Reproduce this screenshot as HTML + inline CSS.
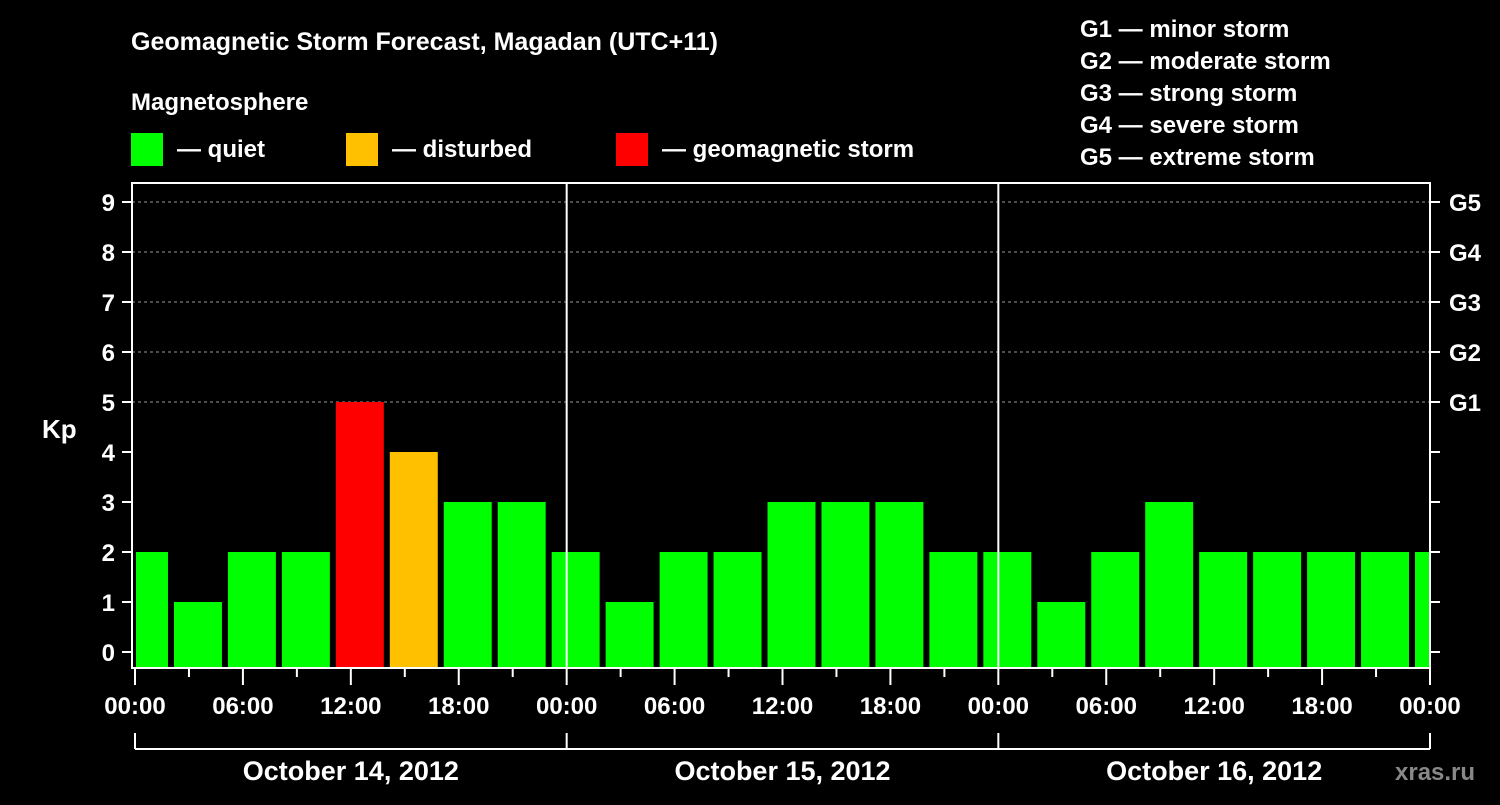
<!DOCTYPE html>
<html><head><meta charset="utf-8"><style>
body{margin:0;background:#000;}
svg text{font-family:"Liberation Sans",Arial,sans-serif;font-weight:bold;fill:#fff;}
</style></head><body>
<svg id="chart" width="1500" height="800" xmlns="http://www.w3.org/2000/svg">
<rect width="1500" height="800" fill="#000"/>
<text x="131" y="50" font-size="25">Geomagnetic Storm Forecast, Magadan (UTC+11)</text>
<text x="131" y="110" font-size="24">Magnetosphere</text>
<g>
<rect x="131" y="133" width="32" height="33" fill="#00ff00"/><text x="177" y="157" font-size="24">— quiet</text>
<rect x="346" y="133" width="32" height="33" fill="#ffc000"/><text x="392" y="157" font-size="24">— disturbed</text>
<rect x="616" y="133" width="32" height="33" fill="#ff0000"/><text x="662" y="157" font-size="24">— geomagnetic storm</text>
</g>
<g font-size="24">
<text x="1080" y="37">G1 — minor storm</text>
<text x="1080" y="69">G2 — moderate storm</text>
<text x="1080" y="101">G3 — strong storm</text>
<text x="1080" y="133">G4 — severe storm</text>
<text x="1080" y="165">G5 — extreme storm</text>
</g>
<text x="42" y="438" font-size="26">Kp</text>
<text x="1395" y="780" font-size="24" style="fill:#888">xras.ru</text>
<g id="plot"></g>
</svg>
<script>
const kpValues=[2,1,2,2,5,4,3,3,2,1,2,2,3,3,3,2,2,1,2,3,2,2,2,2,2];
const yTicks=[0,1,2,3,4,5,6,7,8,9];
const gLabels=["G1","G2","G3","G4","G5"];
const xTickLabels=["00:00","06:00","12:00","18:00","00:00","06:00","12:00","18:00","00:00","06:00","12:00","18:00","00:00"];
const dayLabels=["October 14, 2012","October 15, 2012","October 16, 2012"];
const NS="http://www.w3.org/2000/svg";
const g=document.getElementById('plot');
const X0=135,X1=1430,TOTAL=72,YB=668;
const x=h=>X0+(X1-X0)*h/TOTAL;
const y=v=>652-v*50;
function mk(t,a,p){const e=document.createElementNS(NS,t);for(const k in a)e.setAttribute(k,a[k]);(p||g).appendChild(e);return e;}
// grid
for(let v=5;v<=9;v++){const l=mk('line',{x1:132,x2:X1,y1:y(v),y2:y(v),stroke:'#999','stroke-dasharray':'3,3','stroke-width':1});

}
// bars
const colorFor=v=>v>=5?'#ff0000':(v>=4?'#ffc000':'#00ff00');
kpValues.forEach((v,i)=>{const t=-1+3*i;let a=x(t)+3,b=x(t+3)-3;a=Math.max(a,X0+1);b=Math.min(b,X1);
const r=mk('rect',{x:a,y:y(v),width:b-a,height:YB-y(v),fill:colorFor(v)});

});
// frame
const fr=mk('rect',{x:132,y:183,width:X1-132,height:YB-183,fill:'none',stroke:'#fff','stroke-width':2});


[24,48].forEach(h=>{const l=mk('line',{x1:x(h),x2:x(h),y1:183,y2:YB,stroke:'#fff','stroke-width':2});

});
// y ticks
yTicks.forEach(v=>{mk('line',{x1:122,x2:132,y1:y(v),y2:y(v),stroke:'#fff','stroke-width':2});
mk('line',{x1:X1,x2:X1+10,y1:y(v),y2:y(v),stroke:'#fff','stroke-width':2});
const t=mk('text',{x:115,y:y(v)+9,'font-size':24,'text-anchor':'end'});t.textContent=v;

});
gLabels.forEach((s,i)=>{const t=mk('text',{x:1449,y:y(5+i)+9,'font-size':24});t.textContent=s;

});
// x ticks
for(let h=0;h<=72;h+=3){const major=h%6===0;mk('line',{x1:x(h),x2:x(h),y1:YB,y2:YB+(major?17:9),stroke:'#fff','stroke-width':2});}
xTickLabels.forEach((s,i)=>{const t=mk('text',{x:x(i*6),y:714,'font-size':24,'text-anchor':'middle'});t.textContent=s;

});
// day bracket
mk('line',{x1:X0,x2:X1,y1:749,y2:749,stroke:'#fff','stroke-width':2});
[0,24,48,72].forEach(h=>mk('line',{x1:x(h),x2:x(h),y1:733,y2:749,stroke:'#fff','stroke-width':2}));
dayLabels.forEach((s,i)=>{const t=mk('text',{x:x(i*24+12),y:780,'font-size':27,'text-anchor':'middle'});t.textContent=s;

});
</script>
</body></html>
